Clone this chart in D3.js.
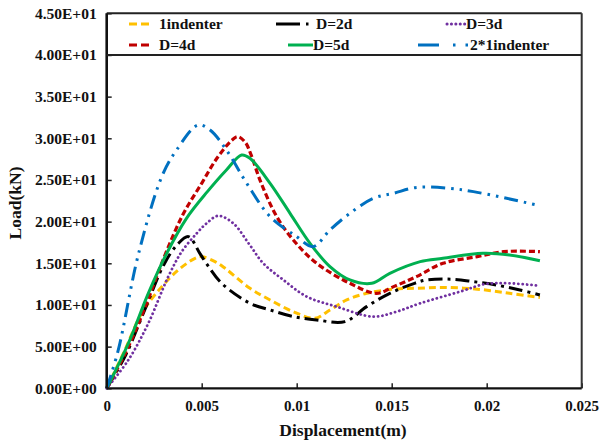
<!DOCTYPE html>
<html><head><meta charset="utf-8">
<script src="https://cdn.jsdelivr.net/npm/d3@7"></script>
<style>
body{margin:0;background:#fff}
svg text{font-family:"Liberation Serif","Times New Roman",serif;font-weight:bold;fill:#111}
</style></head>
<body><svg id="c" width="600" height="444"></svg>
<script>
// ---- data ----
const seriesNames = ["1indenter","D=2d","D=3d","D=4d","D=5d","2*1indenter"];
const disp1indenter = [0,0.00096,0.00184,0.0029,0.00377,0.00465,0.005,0.0057,0.00623,0.00754,0.0086,0.00982,0.01096,0.01175,0.01263,0.01368,0.0151,0.0163,0.0177,0.0195,0.0212,0.0228];
const load1indenter = [0,4.6,9.0,12.2,14.2,15.6,15.8,15.2,14.4,12.0,10.6,9.2,8.4,9.4,10.6,11.4,11.9,12.0,12.1,11.9,11.4,10.9];
const dispD2 = [0,0.001,0.002,0.003,0.0037,0.0043,0.0049,0.0053,0.00605,0.00754,0.0086,0.00982,0.01105,0.01254,0.01368,0.0149,0.0162,0.01684,0.0181,0.0193,0.0205,0.02175,0.0228];
const loadD2 = [0,4.0,9.4,14.8,17.2,18.2,16.2,14.8,12.6,10.2,9.4,8.6,8.2,8.0,9.8,11.4,12.6,13.0,13.1,12.8,12.4,11.8,11.2];
const dispD3 = [0,0.00114,0.00219,0.00324,0.00395,0.00474,0.00526,0.00587,0.00666,0.0075,0.00824,0.0093,0.01053,0.0121,0.01403,0.01526,0.0165,0.0186,0.0199,0.0212,0.0228];
const loadD3 = [0,3.4,7.8,13.4,16.4,18.6,19.8,20.7,19.8,17.3,15.0,13.0,11.0,9.8,8.6,9.2,10.2,11.6,12.5,12.6,12.3];
const dispD4 = [0,0.001,0.002,0.003,0.004,0.005,0.0058,0.0066,0.0069,0.0073,0.0076,0.0081,0.00895,0.00982,0.01105,0.0128,0.0142,0.0151,0.0163,0.0177,0.0195,0.0209,0.0228];
const loadD4 = [0,4.3,9.6,15.6,20.8,24.6,27.6,29.8,30.2,29.5,28.0,24.8,20.6,17.8,15.0,12.6,11.4,12.2,13.4,15.0,15.8,16.4,16.4];
const dispD5 = [0,0.00114,0.00219,0.00316,0.0042,0.0053,0.0063,0.0071,0.00754,0.0086,0.00965,0.0107,0.01175,0.0128,0.01395,0.0149,0.0165,0.0177,0.0198,0.0212,0.0228];
const loadD5 = [0,5.4,11.4,16.2,20.4,23.6,26.2,28.0,27.6,24.6,21.0,17.4,14.6,13.0,12.6,13.8,15.2,15.6,16.2,16.0,15.3];
const disp2x = [0,0.00061,0.00166,0.0029,0.00368,0.00482,0.00544,0.0063,0.00737,0.0086,0.0100,0.01087,0.01175,0.0128,0.01403,0.0151,0.0163,0.01807,0.0193,0.02105,0.0228];
const load2x = [0,4.6,16.0,25.4,28.6,31.6,31.0,28.6,24.6,20.6,18.2,17.0,19.0,21.0,22.8,23.4,24.1,24.0,23.6,22.8,21.9];
const xTickValues = [0,0.005,0.01,0.015,0.02,0.025];
const xTickLabels = ["0","0.005","0.01","0.015","0.02","0.025"];
const yTickValues = [0,5,10,15,20,25,30,35,40,45];
const yTickLabels = ["0.00E+00","5.00E+00","1.00E+01","1.50E+01","2.00E+01","2.50E+01","3.00E+01","3.50E+01","4.00E+01","4.50E+01"];

// ---- styles ----
const styles = [
  {color:"#FFC000", dash:"7,4", w:3, cap:"butt"},
  {color:"#000000", dash:"14,5,3,5", w:3, cap:"butt"},
  {color:"#7030A0", dash:"0.1,4.3", w:2.8, cap:"round"},
  {color:"#C00000", dash:"6,3", w:3.2, cap:"butt"},
  {color:"#00B050", dash:null, w:3, cap:"butt"},
  {color:"#0070C0", dash:"14,6,2.5,6,2.5,6", w:3, cap:"butt"}
];
const dispSets = [disp1indenter,dispD2,dispD3,dispD4,dispD5,disp2x];
const loadSets = [load1indenter,loadD2,loadD3,loadD4,loadD5,load2x];

const svg = d3.select("#c");
const x = d3.scaleLinear().domain([0,0.025]).range([106.7,581.7]);
const y = d3.scaleLinear().domain([0,45]).range([388.3,13.3]);

// curves
const line = d3.line().x(d=>x(d[0])).y(d=>y(d[1])).curve(d3.curveCatmullRom.alpha(0.5));
[0,1,2,3,4,5].forEach(i=>{
  const pts = dispSets[i].map((v,k)=>[v,loadSets[i][k]]);
  const s = styles[i];
  svg.append("path").attr("d",line(pts)).attr("fill","none")
    .attr("stroke",s.color).attr("stroke-width",s.w)
    .attr("stroke-dasharray",s.dash).attr("stroke-linecap",s.cap)
    .attr("stroke-linejoin","round");
});

// axes
const xAxis = d3.axisBottom(x).tickValues(xTickValues).tickSize(-5).tickPadding(12)
  .tickFormat((d,i)=>xTickLabels[i]);
const gx = svg.append("g").attr("transform",`translate(0,${y(0)})`).call(xAxis);
gx.select(".domain").remove();
gx.selectAll(".tick line").attr("stroke","#222").attr("stroke-width",1.5);
gx.selectAll("text").attr("font-size",15).attr("fill","#111");

const yAxis = d3.axisLeft(y).tickValues(yTickValues).tickSize(-5).tickPadding(10)
  .tickFormat((d,i)=>yTickLabels[i]);
const gy = svg.append("g").attr("transform",`translate(${x(0)},0)`).call(yAxis);
gy.select(".domain").remove();
gy.selectAll(".tick line").attr("stroke","#222").attr("stroke-width",1.5);
gy.selectAll("text").attr("font-size",15.5).attr("fill","#111");

// frame
svg.append("line").attr("x1",x(0)).attr("x2",x(0.025)).attr("y1",y(45)).attr("y2",y(45)).attr("stroke","#222").attr("stroke-width",2);
svg.append("line").attr("x1",x(0.025)).attr("x2",x(0.025)).attr("y1",y(45)).attr("y2",y(0)).attr("stroke","#333").attr("stroke-width",2);
svg.append("line").attr("x1",x(0)).attr("x2",x(0.025)).attr("y1",y(0)).attr("y2",y(0)).attr("stroke","#111").attr("stroke-width",2.2);
svg.append("line").attr("x1",x(0)).attr("x2",x(0)).attr("y1",y(45)).attr("y2",y(0)).attr("stroke","#111").attr("stroke-width",2.6);
svg.append("line").attr("x1",x(0)).attr("x2",x(0.025)).attr("y1",y(40)).attr("y2",y(40)).attr("stroke","#222").attr("stroke-width",2);

// legend
const legendPos = [
  {x1:129,x2:153,tx:159,ty:29},
  {x1:276,x2:312,tx:316,ty:29},
  {x1:447,x2:465,tx:466,ty:29},
  {x1:129,x2:153,tx:159,ty:50},
  {x1:288,x2:313,tx:313,ty:50},
  {x1:418,x2:469,tx:470,ty:50}
];
const legendDash = ["8,4","24,6,2.5,20",null,"8,4",null,"21,14,2.5,10,2.5,20"];
seriesNames.forEach((n,i)=>{
  const p = legendPos[i], s = styles[i];
  svg.append("line").attr("x1",p.x1).attr("x2",p.x2).attr("y1",p.ty-5).attr("y2",p.ty-5)
    .attr("stroke",s.color).attr("stroke-width",3)
    .attr("stroke-dasharray", i===2 ? s.dash : legendDash[i])
    .attr("stroke-linecap",s.cap);
  svg.append("text").attr("x",p.tx).attr("y",p.ty).attr("font-size",15.5).text(n);
});

// axis titles
svg.append("text").attr("x",343).attr("y",436).attr("text-anchor","middle").attr("font-size",17.5).text("Displacement(m)");
svg.append("text").attr("transform","translate(21,203) rotate(-90)").attr("text-anchor","middle").attr("font-size",17.5).text("Load(kN)");
</script></body></html>
